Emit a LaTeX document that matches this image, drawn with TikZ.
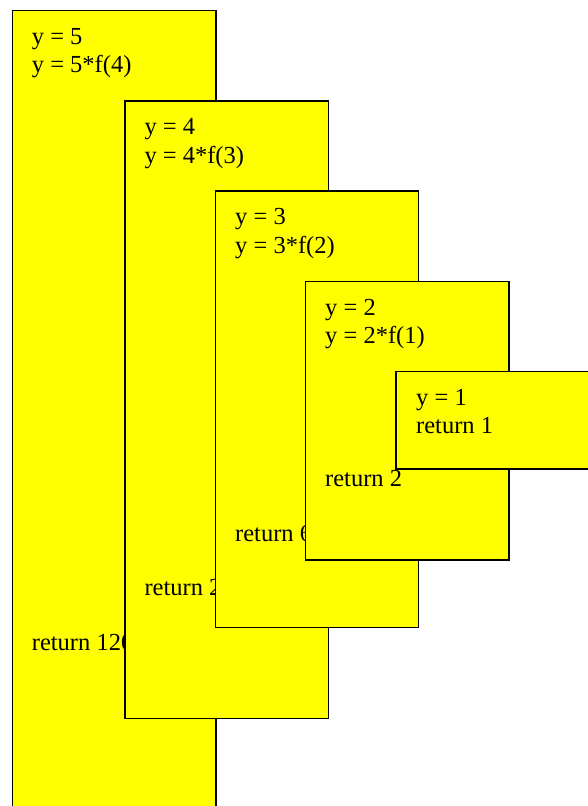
\documentclass[tikz,border=0pt]{standalone}
\usepackage{fontspec}
\setmainfont{Liberation Serif}
\definecolor{boxyellow}{RGB}{255,255,0}
\begin{document}
\begin{tikzpicture}[x=1pt,y=-1pt,
  frame/.style={draw=black, fill=boxyellow, line width=1.5pt, anchor=north west, inner sep=0pt, outer sep=0pt},
  txt/.style={anchor=base west, inner sep=0pt, font=\fontsize{24.5}{28}\selectfont}]
\useasboundingbox (0,0) rectangle (588,806);
\clip (0,0) rectangle (588,806);
\fill[white] (0,0) rectangle (588,806);
% box 5
\node[frame, minimum width=203.5pt, minimum height=820pt] (b5) at (12.5,10.5) {};
\node[txt] (t5a) at (31.7,44) {y = 5};
\node[txt] (t5b) at (31.7,72.5) {y = 5*f(4)};
\node[txt] (r5) at (31.7,650) {return 120};
% box 4
\node[frame, minimum width=203.7pt, minimum height=617.5pt] (b4) at (125,101) {};
\node[txt] (t4a) at (144.3,134.5) {y = 4};
\node[txt] (t4b) at (144.3,163) {y = 4*f(3)};
\node[txt] (r4) at (144.3,595) {return 24};
% box 3
\node[frame, minimum width=203pt, minimum height=436.7pt] (b3) at (215.7,191) {};
\node[txt] (t3a) at (235,224.5) {y = 3};
\node[txt] (t3b) at (235,253) {y = 3*f(2)};
\node[txt] (r3) at (235,541.5) {return 6};
% box 2
\node[frame, minimum width=203.3pt, minimum height=278.5pt] (b2) at (305.7,281.5) {};
\node[txt] (t2a) at (325,315) {y = 2};
\node[txt] (t2b) at (325,343.5) {y = 2*f(1)};
\node[txt] (r2) at (325,486) {return 2};
% box 1
\node[frame, minimum width=210pt, minimum height=97.5pt] (b1) at (396,371.5) {};
\node[txt] (t1a) at (416,405) {y = 1};
\node[txt] (t1b) at (416,433.5) {return 1};
\end{tikzpicture}
\end{document}
